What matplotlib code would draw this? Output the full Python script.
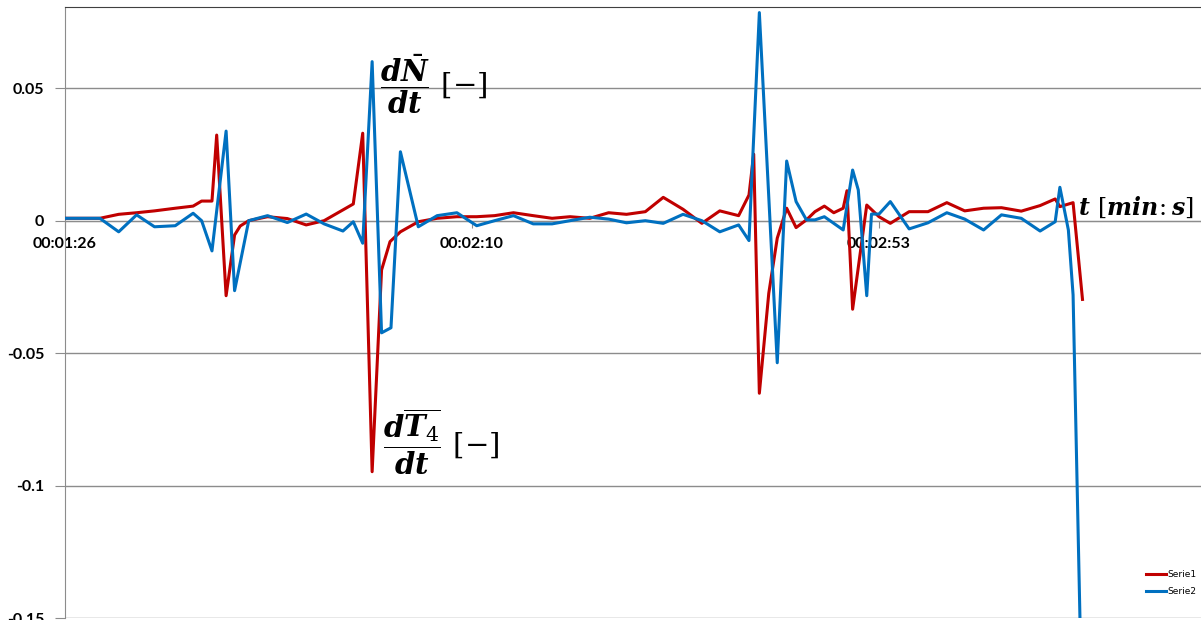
import numpy as np
import matplotlib
matplotlib.use("Agg")
import matplotlib.pyplot as plt
from matplotlib.ticker import FixedLocator, FuncFormatter

# data (time in seconds, derivative values)
t_serie1 = [86.4, 88.3, 90.1, 92.1, 94.0, 95.9, 98.1, 100.0, 100.9, 102.0, 102.5, 103.5,
            104.4, 105.0, 105.9, 107.9, 110.0, 112.0, 113.9, 117.0, 118.0, 119.0, 120.0,
            120.9, 122.0, 123.9, 125.9, 128.0, 130.1, 132.0, 134.0, 136.1, 138.1, 140.0,
            142.1, 144.1, 146.0, 148.0, 149.9, 152.0, 154.0, 155.9, 157.9, 159.0, 159.5,
            160.1, 161.1, 162.0, 163.0, 164.0, 165.1, 166.0, 167.0, 168.0, 169.0, 169.4,
            170.0, 171.5, 172.8, 174.0, 176.0, 178.0, 180.0, 181.9, 183.9, 185.8, 187.9,
            189.9, 191.5, 192.0, 193.4, 194.4]
serie1 = [0.0009, 0.0009, 0.0009, 0.0024, 0.0030, 0.0037, 0.0047, 0.0055, 0.0074, 0.0074,
          0.0323, -0.0283, -0.0054, -0.0020, 0.0, 0.0015, 0.0008, -0.0016, 0.0, 0.0063,
          0.0330, -0.0947, -0.0186, -0.0079, -0.0042, -0.0004, 0.0009, 0.0015, 0.0015,
          0.0019, 0.0030, 0.0019, 0.0009, 0.0015, 0.0009, 0.0030, 0.0024, 0.0034, 0.0088,
          0.0043, -0.0010, 0.0037, 0.0019, 0.0097, 0.0251, -0.0651, -0.0274, -0.0066,
          0.0047, -0.0026, 0.0003, 0.0034, 0.0055, 0.0030, 0.0047, 0.0113, -0.0334, 0.0059,
          0.0015, -0.0010, 0.0034, 0.0034, 0.0068, 0.0037, 0.0047, 0.0049, 0.0036, 0.0057,
          0.0082, 0.0053, 0.0068, -0.0297]

t_serie2 = [86.4, 88.3, 90.1, 92.1, 94.0, 95.9, 98.1, 100.0, 100.9, 102.0, 103.5, 104.4,
            105.9, 107.9, 110.0, 112.0, 113.9, 115.9, 117.0, 118.0, 119.0, 120.0, 121.0,
            122.0, 123.9, 125.9, 128.0, 130.1, 132.0, 134.0, 136.1, 138.1, 140.0, 142.1,
            144.1, 146.0, 148.0, 149.9, 152.0, 154.0, 155.9, 157.9, 159.0, 160.1, 162.0,
            163.0, 164.0, 165.1, 166.0, 167.0, 169.0, 170.0, 170.6, 171.5, 172.0, 172.8,
            174.0, 176.0, 178.0, 180.0, 181.9, 183.9, 185.8, 187.9, 189.9, 191.5, 192.0,
            192.9, 193.4, 194.4]
serie2 = [0.0009, 0.0009, 0.0009, -0.0042, 0.0022, -0.0023, -0.0019, 0.0028, 0.0, -0.0114,
          0.0338, -0.0264, 0.0, 0.0019, -0.0007, 0.0025, -0.0012, -0.0039, -0.0004, -0.0085,
          0.0600, -0.0423, -0.0404, 0.0260, -0.0023, 0.0019, 0.0030, -0.0019, 0.0, 0.0019,
          -0.0012, -0.0012, 0.0, 0.0013, 0.0006, -0.0008, 0.0, -0.0010, 0.0024, 0.0,
          -0.0042, -0.0016, -0.0075, 0.0785, -0.0536, 0.0225, 0.0072, 0.0003, 0.0003,
          0.0015, -0.0035, 0.0191, 0.0116, -0.0283, 0.0025, 0.0025, 0.0072, -0.0031,
          -0.0008, 0.0030, 0.0006, -0.0035, 0.0022, 0.0009, -0.0039, -0.0004, 0.0126,
          -0.0035, -0.0280, -0.1950]

x_ticks = [86.4, 129.6, 172.8]
y_ticks = [-0.15, -0.1, -0.05, 0, 0.05]

plt.rcParams['mathtext.fontset'] = 'custom'
plt.rcParams['mathtext.rm'] = 'DejaVu Serif'
plt.rcParams['mathtext.it'] = 'DejaVu Serif:italic:bold'
plt.rcParams['mathtext.bf'] = 'DejaVu Serif:bold'

fig = plt.figure(figsize=(12.01, 6.2), dpi=100)
ax = fig.add_axes([65 / 1201, 1.7 / 620, 1221 / 1201, 611 / 620])

ax.plot(t_serie1, serie1, color='#C00000', lw=2.2, label='Serie1', zorder=3)
ax.plot(t_serie2, serie2, color='#0070C0', lw=2.2, label='Serie2', zorder=3)

ax.set_xlim(86.4, 216.0)
ax.set_ylim(-0.15, 0.0805)

ax.xaxis.set_major_locator(FixedLocator(x_ticks))
ax.yaxis.set_major_locator(FixedLocator(y_ticks))

def hms(v, pos):
    s = int(round(v))
    return f"{s // 3600:02d}:{(s % 3600) // 60:02d}:{s % 60:02d}"

ax.xaxis.set_major_formatter(FuncFormatter(hms))
ax.yaxis.set_major_formatter(FuncFormatter(lambda v, p: f"{round(v, 2):g}"))

ax.grid(axis='y', color='#8c8c8c', lw=1)
ax.set_axisbelow(True)

ax.spines['bottom'].set_position(('data', 0))
ax.spines['bottom'].set_color('#8c8c8c')
ax.spines['left'].set_color('#8c8c8c')
ax.spines['right'].set_visible(False)
ax.spines['top'].set_color('#404040')

ax.tick_params(axis='x', direction='out', length=5, color='#8c8c8c', pad=7,
               labelsize=11.5)
ax.tick_params(axis='y', direction='out', length=7, color='#8c8c8c', pad=8,
               labelsize=11.5)
for lab in ax.get_xticklabels() + ax.get_yticklabels():
    lab.set_fontfamily('Lato')
    lab.set_fontweight('bold')

# formula annotations
ax.text(119.85, 0.0515, r'$\dfrac{d\bar{N}}{dt}\ [-]$', fontsize=21, ha='left', va='center')
ax.text(120.15, -0.0835, r'$\dfrac{d\overline{T_4}}{dt}\ [-]$', fontsize=21, ha='left',
        va='center')
ax.text(193.9, 0.0052, r'$t\ [min\!:s]$', fontsize=17, ha='left', va='center')

fig.legend(loc='center left', bbox_to_anchor=(1138 / 1201, 1 - 583 / 620),
           frameon=False, fontsize=6.5, handlelength=2.2, handletextpad=0.1,
           labelspacing=0.9)

fig.savefig('out.png', dpi=100)
